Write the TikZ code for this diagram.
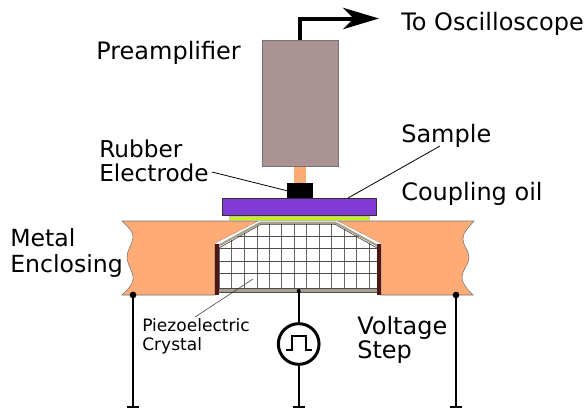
\documentclass[tikz,border=0pt]{standalone}
\usepackage{fontspec}
\setmainfont{DejaVu Sans}
\usetikzlibrary{arrows.meta,positioning}
\definecolor{MetalOrange}{HTML}{FFAB76}
\definecolor{PreampGrey}{HTML}{AC9393}
\definecolor{SamplePurple}{HTML}{7F3BD3}
\definecolor{OilGreen}{HTML}{C6F500}
\definecolor{ElectrodeRed}{HTML}{501616}
\definecolor{BarTan}{HTML}{A8A08E}

\begin{document}
\begin{tikzpicture}[
  x=0.75pt, y=-0.75pt,
  label text/.style={font=\fontsize{18}{#1}\selectfont, align=left, anchor=west, inner sep=0pt},
  label text/.default=18,
  small text/.style={font=\fontsize{12.8}{14.25}\selectfont, align=left, anchor=west, inner sep=0pt},
  metal/.style={fill=MetalOrange, draw=black!55, line width=0.4pt},
  leader/.style={draw=black, line width=0.6pt},
  wire/.style={draw=black, line width=1.5pt},
  dot/.style={circle, fill=black, inner sep=0pt, minimum size=5pt},
  plain box/.style={rectangle, inner sep=0pt, anchor=north west}
]
\useasboundingbox (0,0) rectangle (585,411);

% enclosure
\filldraw[metal] (122,221) .. controls (128,227) and (134,232) .. (133,238) .. controls (132,245) and (127,250) .. (127,257)
  .. controls (127,265) and (134,272) .. (133,280) .. controls (132,286) and (126,291) .. (122,295)
  -- (215,295) -- (215,243.5) -- (259,221) -- cycle;
\filldraw[metal] (473,295) .. controls (469,291) and (462,284) .. (462,277) .. controls (462,270) and (469,265) .. (469,257)
  .. controls (469,250) and (462,245) .. (463,238) .. controls (463,232) and (470,226) .. (474,221)
  -- (337,221) -- (381,243.5) -- (381,295) -- cycle;

% crystal
\fill[white] (215,243.5) -- (259,221) -- (337,221) -- (381,243.5) -- (381,292) -- (215,292) -- cycle;
\begin{scope}
  \clip (219,248) -- (260,222) -- (336,222) -- (377,248) -- (377,291) -- (219,291) -- cycle;
  \foreach \gx in {219.3,231.7,244.7,257,269.3,281.7,294.3,306.7,319.3,331.7,344,356.3,369}
    \draw[black!60, line width=0.75pt] (\gx,215) -- (\gx,292);
  \foreach \gy in {236.3,248.7,261,273.3}
    \draw[black!70, line width=0.6pt] (215,\gy) -- (381,\gy);
\end{scope}
\draw[black!80, line width=0.4pt] (219,248) -- (261,224.3) -- (335,224.3) -- (377,248);
\draw[BarTan, line width=1.6pt, line join=miter] (218,246) -- (260.5,222.8) -- (335.5,222.8) -- (378,246);
\fill[BarTan, draw=black!70, line width=0.3pt] (218,288) rectangle (378,292);
\fill[ElectrodeRed] (215,244) rectangle (219,295);
\fill[ElectrodeRed] (377,244) rectangle (381,295);

% sample stack
\node (oil) [plain box, minimum width=105pt, minimum height=3pt, fill=OilGreen, draw=black!25, line width=0.2pt] at (229,216) {};
\node (sample) [plain box, minimum width=115.5pt, minimum height=12.75pt, fill=SamplePurple, draw=black!80, line width=0.6pt] at (222,198) {};
\node (stem) [plain box, minimum width=9pt, minimum height=12.75pt, fill=MetalOrange] at (294,166) {};
\node (electrode) [plain box, minimum width=19.5pt, minimum height=11.25pt, fill=black] at (287,183) {};
\node (preamp) [plain box, minimum width=57pt, minimum height=94.5pt, fill=PreampGrey, draw=black!55, line width=0.4pt] at (262,40) {};

% output arrow
\coordinate (outTip) at (379,18.5);
\draw[black, line width=3pt, -{Stealth[length=27pt, width=16pt, inset=8pt]}] (preamp.north) |- (outTip);

% labels
\node (lblScope) [label text] at (401,24) {To Oscilloscope};
\node (lblPre) [label text] at (96,53) {Preamplifier};
\node (lblSample) [label text] at (401,136) {Sample};
\node (lblOil) [label text] at (401,194) {Coupling oil};
\node (lblElectrode) [label text=18, font=\fontsize{17.4}{18}\selectfont] at (99,161) {Rubber\\Electrode};
\node (lblMetal) [label text=19.5, font=\fontsize{17.7}{19.5}\selectfont] at (10,253) {Metal\\Enclosing};
\node (lblPiezo) [small text] at (142,336) {Piezoelectric\\Crystal};
\node (lblStep) [label text=16.5] at (357,340) {Voltage\\Step};

% leaders
\coordinate (ldElectrode) at (212,172);
\coordinate (ldSample) at (440,146);
\coordinate (ldPiezo) at (195,317);
\coordinate (ldCrystal) at (253,279);
\draw[leader] (ldElectrode) -- (electrode.west);
\draw[leader] (ldSample) -- (348,198);
\draw[leader, draw=black!80, line width=0.4pt] (ldPiezo) -- (ldCrystal);

% source and wires
\node (source) [circle, draw=black, line width=2.25pt, fill=white, minimum size=30.5pt, inner sep=0pt] at (298.7,344) {};
\draw[black, line width=1.6pt, line join=miter] (286,350) -- (292,350) -- (292,336) -- (306,336) -- (306,350) -- (312,350);
\coordinate (gndA) at (133,407);
\coordinate (gndB) at (298.7,407);
\coordinate (gndC) at (456,407);
\coordinate (topA) at (133,295);
\coordinate (topB) at (298.7,291);
\coordinate (topC) at (456,295);
\draw[wire] (topB) -- (source.north);
\draw[wire] (source.south) -- (gndB);
\draw[wire] (topA) -- (gndA);
\draw[wire] (topC) -- (gndC);
\foreach \gnd in {gndA,gndB,gndC}
  \draw[wire] ([xshift=-4.5pt]\gnd) -- ([xshift=4.5pt]\gnd);
\node[dot] at (topA) {};
\node[dot] at (topC) {};
\node[circle, fill=black, inner sep=0pt, minimum size=3pt] at (topB) {};
\end{tikzpicture}
\end{document}
